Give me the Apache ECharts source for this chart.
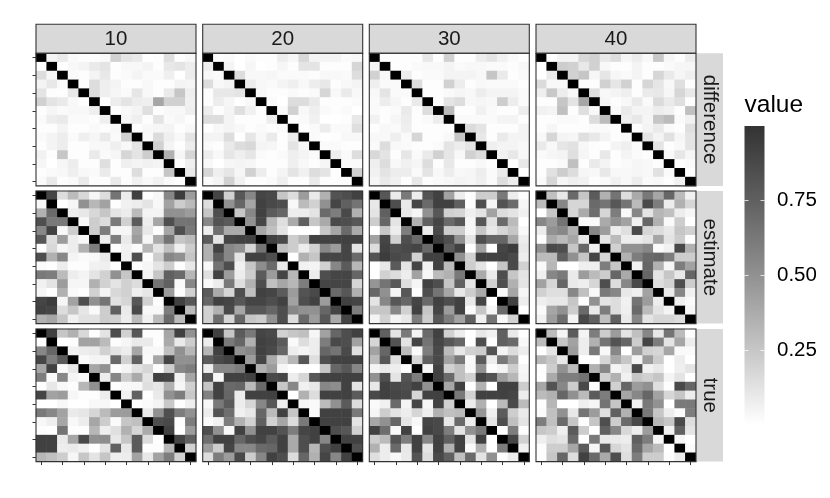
<!DOCTYPE html>
<html>
<head>
<meta charset="utf-8">
<style>html,body{margin:0;padding:0;background:#fff}#c{width:830px;height:498px}</style>
<script src="https://cdn.jsdelivr.net/npm/echarts@6/dist/echarts.min.js"></script>
</head>
<body>
<div id="c"></div>
<script>
const _ = null; // diagonal cells are drawn black
const columnLabels = ['10', '20', '30', '40'];
const rowLabels = ['difference', 'estimate', 'true'];
const legendTicks = [0.25, 0.5, 0.75];
const cells = ['1','2','3','4','5','6','7','8','9','10','11','12','13','14','15'];

const diff10 = [
[_,5,9,2,1,1,2,20,12,9,0,1,14,1,3],
[0,_,0,3,5,9,12,1,3,3,5,1,10,12,8],
[15,4,_,2,1,5,10,1,2,5,2,2,7,0,8],
[5,10,2,_,1,15,7,5,1,1,3,1,1,5,4],
[12,1,1,10,_,15,7,4,2,11,3,1,9,25,7],
[20,12,9,3,1,_,1,8,12,8,7,40,20,20,6],
[1,4,2,3,3,7,_,1,3,5,14,1,3,3,7],
[2,8,9,2,2,1,7,_,4,7,1,12,2,4,1],
[1,1,5,1,1,2,1,3,_,1,3,4,5,1,3],
[2,5,8,2,7,4,9,2,20,_,2,16,7,3,12],
[1,5,8,1,1,3,3,7,3,12,_,20,5,1,8],
[6,1,25,1,1,9,2,4,18,12,22,_,35,4,18],
[4,0,4,8,1,1,14,1,7,5,6,5,_,1,7],
[1,2,3,7,3,2,9,1,1,15,1,1,25,_,9],
[2,9,1,2,9,1,1,9,1,6,3,6,2,1,_]];
const diff20 = [
[_,1,2,0,2,1,1,8,4,17,5,5,5,2,3],
[8,_,5,0,4,0,1,4,1,12,12,1,1,1,18],
[3,2,_,15,3,3,4,2,2,2,1,3,3,2,15],
[15,3,5,_,8,3,2,5,7,3,8,10,1,3,5],
[1,10,10,12,_,3,1,1,2,1,2,18,3,9,3],
[1,8,4,0,3,_,2,0,15,15,9,1,1,1,2],
[8,1,5,14,6,1,_,2,20,3,7,2,1,2,0],
[15,15,5,1,1,1,8,_,1,2,6,0,0,1,10],
[0,3,5,3,1,2,1,2,_,1,2,8,2,2,14],
[5,5,15,0,11,3,9,1,8,_,2,0,1,3,3],
[2,1,9,15,17,5,4,1,12,3,_,2,2,1,1],
[8,3,11,7,11,2,1,2,7,5,2,_,7,2,15],
[3,0,4,5,4,1,1,1,7,3,1,4,_,2,2],
[18,7,11,4,20,8,1,5,12,6,15,12,1,_,20],
[2,5,20,6,1,1,2,7,1,1,9,1,1,1,_]];
const diff30 = [
[_,1,1,1,1,10,1,20,1,1,8,12,6,2,0],
[5,_,1,1,2,3,3,5,2,3,3,2,2,1,3],
[20,3,_,8,1,2,2,5,5,5,3,25,9,1,2],
[7,2,2,_,15,1,1,20,8,1,3,2,2,2,1],
[3,12,2,2,_,1,1,2,4,3,8,5,5,5,2],
[2,8,4,1,9,_,1,12,15,3,4,3,22,8,2],
[2,1,2,9,1,15,_,30,1,1,6,2,1,1,8],
[6,1,4,8,1,2,8,_,2,2,2,2,5,5,1],
[1,3,2,7,1,1,1,1,_,16,12,1,1,1,5],
[3,3,7,2,18,1,1,3,25,_,10,1,9,5,5],
[2,15,3,2,1,1,2,12,8,12,_,7,5,5,3],
[17,12,1,11,2,9,20,11,3,20,15,_,6,10,3],
[7,15,3,6,4,15,1,10,1,1,3,1,_,1,10],
[6,12,8,8,2,12,3,8,3,4,8,2,9,_,0],
[4,9,6,1,10,1,2,3,5,4,7,2,15,8,_]];
const diff40 = [
[_,0,5,5,17,20,10,15,4,8,3,24,4,1,8],
[0,_,22,20,10,20,3,1,1,5,1,1,2,4,4],
[0,9,_,20,25,4,11,4,2,5,1,18,9,4,7],
[16,3,3,_,1,1,20,11,20,1,18,11,3,14,1],
[7,24,8,3,_,14,3,5,7,1,9,10,4,18,10],
[1,1,25,12,40,_,4,1,3,9,2,16,9,14,1],
[6,5,28,1,14,3,_,2,9,5,5,8,6,1,28],
[1,1,2,2,1,15,30,_,7,10,4,25,30,2,6],
[1,4,1,1,1,2,2,1,_,1,5,9,2,1,14],
[3,18,5,4,14,10,5,1,2,_,11,5,13,4,12],
[9,3,11,13,3,1,0,5,7,2,_,12,1,3,12],
[2,4,5,14,4,1,10,1,5,2,1,_,3,11,4],
[1,1,2,28,1,9,5,1,2,4,3,1,_,1,2],
[1,13,22,15,4,3,10,3,3,4,3,13,2,_,1],
[2,18,4,7,6,1,2,6,3,8,2,3,1,6,_]];

const est10 = [
[_,90,15,30,17,4,15,65,8,92,0,3,55,95,45],
[3,_,0,4,50,32,42,1,6,8,12,3,42,22,30],
[35,70,_,8,10,17,25,12,8,30,5,5,50,50,45],
[85,62,62,_,3,22,15,62,20,78,8,40,85,65,65],
[55,92,3,22,_,22,60,4,4,40,10,1,40,85,62],
[80,15,45,8,3,_,8,60,9,45,4,38,65,25,30],
[0,17,4,8,35,60,_,1,6,2,32,12,28,7,22],
[85,35,55,5,2,3,9,_,6,85,1,22,55,50,25],
[2,1,8,1,1,6,7,1,_,1,4,12,22,1,10],
[62,60,30,8,5,12,20,50,25,_,5,25,75,70,32],
[6,12,45,4,4,35,20,12,20,15,_,65,75,2,55],
[4,0,35,2,1,20,5,17,20,7,11,_,45,1,20],
[90,95,4,42,85,50,65,13,18,80,20,1,_,92,80],
[92,90,15,25,11,2,22,75,9,88,3,3,60,_,30],
[35,40,25,6,13,13,22,20,8,30,6,30,70,30,_]];
const est20 = [
[_,90,20,80,55,90,88,25,15,45,9,35,82,85,92],
[15,_,50,72,40,92,88,85,3,30,20,50,90,75,65],
[25,85,_,25,55,92,78,72,8,8,12,70,60,88,35],
[55,82,78,_,50,90,32,14,38,75,25,38,88,85,80],
[8,68,38,38,_,40,28,12,1,0,0,25,40,70,38],
[78,12,90,92,92,_,92,88,22,32,92,92,92,92,92],
[35,92,55,50,18,65,_,28,22,8,20,55,45,90,12],
[35,78,55,12,92,92,85,_,0,35,25,90,90,90,70],
[3,65,85,6,25,52,70,10,_,6,5,20,55,78,32],
[14,92,45,8,22,78,45,90,32,_,8,85,90,90,72],
[2,8,62,14,35,85,28,40,32,60,_,90,90,90,18],
[78,38,18,85,28,92,90,78,45,82,88,_,70,80,35],
[72,92,90,80,90,90,85,92,42,85,92,45,_,92,90],
[20,35,88,40,80,80,72,85,55,50,50,72,90,_,60],
[20,68,18,72,25,22,50,85,15,70,45,80,38,90,_]];
const est30 = [
[_,80,9,62,8,82,92,42,8,1,22,22,62,8,1],
[10,_,85,9,90,70,92,92,75,1,85,4,82,70,4],
[12,75,_,10,4,50,80,20,18,7,12,42,15,12,6],
[22,72,12,_,35,75,90,70,80,4,80,13,70,30,0],
[0,25,8,60,_,8,88,22,22,4,25,10,18,25,3],
[42,90,20,85,70,_,95,85,50,12,85,72,72,40,8],
[15,92,85,88,90,70,_,78,92,0,42,0,90,95,10],
[82,95,88,85,20,92,92,_,50,20,92,92,92,88,8],
[0,10,78,12,90,6,92,30,_,22,12,0,25,88,20],
[0,20,15,8,42,4,30,35,62,_,38,9,85,25,12],
[48,65,80,15,4,92,85,25,75,12,_,20,85,35,12],
[72,50,5,80,1,85,65,40,10,22,38,_,3,40,4],
[12,55,80,72,90,70,92,85,92,10,90,0,_,92,8],
[25,25,55,20,92,25,90,45,92,2,25,4,70,_,0],
[5,20,5,10,60,22,80,60,42,75,6,65,3,20,_]];
const est40 = [
[_,28,10,70,25,78,35,65,15,38,62,40,72,30,6],
[30,_,55,18,18,70,65,80,65,30,88,60,8,35,18],
[0,25,_,18,38,68,18,60,2,55,12,32,28,8,4],
[55,45,65,_,2,2,38,50,42,6,72,35,2,22,0],
[8,50,55,35,_,55,45,8,14,88,18,15,10,25,20],
[1,38,30,40,10,_,12,30,8,8,12,40,12,22,1],
[50,88,85,25,72,6,_,20,50,50,55,2,6,88,35],
[30,30,75,50,25,90,18,_,35,60,70,72,60,22,22],
[2,32,0,0,7,7,60,25,_,6,72,35,4,60,42],
[7,55,62,9,45,30,22,72,38,_,72,12,25,10,72],
[42,18,72,9,7,18,85,15,55,88,_,15,20,85,22],
[20,14,14,55,28,3,62,55,10,7,42,_,9,55,6],
[7,10,10,25,1,50,12,15,6,65,45,8,_,6,2],
[2,40,50,22,70,9,60,15,7,70,30,12,5,_,4],
[6,45,68,5,88,75,28,75,9,55,12,18,18,15,_]];

const true10 = [
[_,92,25,35,17,1,12,85,20,80,1,1,40,92,50],
[1,_,0,1,42,42,30,1,4,9,9,1,38,9,22],
[55,72,_,6,8,9,20,12,8,40,3,3,28,50,32],
[90,60,78,_,2,5,5,70,20,75,2,40,90,50,50],
[40,92,2,10,_,40,50,1,5,13,18,1,22,55,60],
[60,2,55,5,2,_,8,55,22,38,12,92,90,6,40],
[1,10,3,1,32,50,_,1,3,3,14,11,35,4,20],
[90,42,45,4,1,1,8,_,6,75,1,9,50,60,24],
[0,0,3,0,0,3,3,0,_,1,2,5,24,1,7],
[62,55,42,9,11,18,30,45,45,_,9,50,85,60,50],
[3,7,40,3,8,40,22,2,25,28,_,85,88,1,60],
[1,0,65,1,1,32,7,14,35,18,38,_,92,0,45],
[92,92,9,40,88,50,52,10,25,78,16,0,_,90,75],
[92,92,8,9,6,0,12,75,10,78,1,1,32,_,20],
[32,28,22,4,25,12,25,7,8,42,10,42,60,20,_]];
const true20 = [
[_,92,25,78,62,90,88,20,25,28,4,42,72,85,92],
[8,_,62,72,35,92,90,78,2,15,8,60,88,85,42],
[32,92,_,50,55,92,88,72,8,5,8,72,65,88,14],
[78,88,92,_,45,90,38,15,32,80,14,85,92,92,92],
[8,55,55,60,_,35,45,4,0,0,0,25,72,80,55],
[82,3,92,92,92,_,88,90,8,18,80,92,92,92,92],
[25,92,70,72,30,70,_,25,55,6,10,55,52,92,12],
[58,92,72,8,92,92,92,_,0,35,15,92,92,92,78],
[3,62,78,8,18,55,80,8,_,4,2,30,50,78,15],
[8,82,68,6,10,72,30,92,25,_,2,92,92,92,62],
[2,6,60,35,20,75,20,40,15,62,_,92,92,92,12],
[85,50,3,92,50,92,92,82,60,90,92,_,85,80,20],
[68,92,92,72,85,90,78,92,38,85,92,55,_,92,92],
[45,22,90,55,55,70,72,92,38,85,32,85,92,_,85],
[15,60,45,88,22,55,92,85,15,72,35,90,55,92,_]];
const true30 = [
[_,75,12,62,5,70,92,20,8,0,10,6,75,9,0],
[18,_,82,12,90,65,90,80,72,0,85,1,75,70,3],
[42,72,_,30,2,60,88,30,10,20,22,82,5,15,8],
[30,80,14,_,18,75,88,42,62,2,78,8,62,40,0],
[5,9,8,1,_,4,92,20,28,3,50,1,5,22,4],
[50,85,12,82,60,_,92,70,28,20,90,82,45,32,5],
[10,92,88,85,92,50,_,40,92,0,35,0,92,92,22],
[88,92,90,88,18,92,92,_,62,20,92,92,92,90,8],
[2,6,70,5,90,4,92,20,_,8,35,0,30,88,30],
[4,22,12,8,18,7,35,28,30,_,48,7,78,22,9],
[40,50,72,12,3,90,88,10,70,8,_,12,85,28,12],
[92,68,3,92,0,92,88,60,12,50,62,_,0,60,1],
[22,30,82,60,92,55,92,75,92,12,92,0,_,90,20],
[35,8,70,10,92,12,92,35,92,2,35,0,60,_,6],
[14,8,3,9,82,15,88,75,28,70,12,50,1,8,_]];
const true40 = [
[_,30,5,78,5,60,22,45,12,28,55,10,65,30,1],
[30,_,25,42,8,35,65,82,72,22,90,60,12,40,8],
[0,12,_,45,8,62,3,55,0,45,20,18,40,2,2],
[32,25,10,_,0,0,18,38,25,5,45,22,0,8,0],
[1,22,50,30,_,35,55,5,10,88,6,10,0,7,12],
[0,38,60,60,65,_,20,35,6,25,20,25,5,12,0],
[40,82,55,22,88,1,_,20,72,45,50,14,1,88,72],
[30,35,72,50,30,78,60,_,40,55,72,42,18,25,8],
[1,32,0,0,7,4,65,25,_,6,62,50,0,62,62],
[2,28,50,10,65,45,14,75,35,_,62,25,8,2,60],
[60,28,70,25,1,25,85,22,70,88,_,32,25,88,15],
[25,22,7,78,22,0,75,55,17,7,45,_,6,75,12],
[7,14,12,70,0,62,9,9,8,75,60,4,_,4,0],
[1,22,22,40,78,4,80,18,12,70,40,30,0,_,2],
[1,25,72,15,92,70,38,85,14,60,22,22,1,8,_]];

const panels = [
  [diff10, diff20, diff30, diff40],
  [est10, est20, est30, est40],
  [true10, true20, true30, true40]
];

const FONT = '"Liberation Sans", Arial, sans-serif';
const INK = '#333333';
const STRIP = '#d9d9d9';
const ramp = ['#ffffff', '#c6c6c6', '#919191', '#606060', '#333333'];
const colX = [36, 202.7, 369.3, 536], panelW = 160;
const rowY = [53.3, 191, 329], panelH = 132.6;
const stripTop = 24.3, stripRight = 723;

const grid = [], xAxis = [], yAxis = [], series = [], graphic = [];
const axisStyle = { lineStyle: { color: INK, width: 1 } };

panels.forEach((row, r) => row.forEach((matrix, c) => {
  const i = grid.length;
  grid.push({ left: colX[c], top: rowY[r], width: panelW, height: panelH, containLabel: false });
  xAxis.push({ type: 'category', gridIndex: i, data: cells, position: 'bottom',
    axisLine: { show: false }, axisLabel: { show: false }, splitLine: { show: false },
    axisTick: { show: r === 2, alignWithLabel: true, length: 3.5, ...axisStyle } });
  yAxis.push({ type: 'category', gridIndex: i, data: cells, inverse: true, position: 'left',
    axisLine: { show: false }, axisLabel: { show: false }, splitLine: { show: false },
    axisTick: { show: c === 0, alignWithLabel: true, length: 3.5, ...axisStyle } });
  const data = [];
  matrix.forEach((vals, y) => vals.forEach((v, x) => data.push([x, y, v === null ? 2 : v / 100])));
  series.push({ type: 'heatmap', xAxisIndex: i, yAxisIndex: i, data, silent: true,
    progressive: 0, animation: false, emphasis: { disabled: true } });
  graphic.push({ type: 'rect', z: 100, silent: true,
    shape: { x: colX[c], y: rowY[r], width: panelW, height: panelH },
    style: { fill: 'none', stroke: INK, lineWidth: 1.1 } });
}));

columnLabels.forEach((t, c) => {
  graphic.push({ type: 'rect', z: 90, silent: true,
    shape: { x: colX[c], y: stripTop, width: panelW, height: rowY[0] - stripTop },
    style: { fill: STRIP, stroke: INK, lineWidth: 1.1 } });
  graphic.push({ type: 'text', z: 110, silent: true, x: colX[c] + panelW / 2, y: (stripTop + rowY[0]) / 2 + 0.5,
    style: { text: t, fill: '#1a1a1a', font: '20.5px ' + FONT, textAlign: 'center', textVerticalAlign: 'middle' } });
});
rowLabels.forEach((t, r) => {
  const x0 = colX[3] + panelW;
  graphic.push({ type: 'rect', z: 90, silent: true,
    shape: { x: x0, y: rowY[r], width: stripRight - x0, height: panelH },
    style: { fill: STRIP, stroke: INK, lineWidth: 0 } });
  graphic.push({ type: 'text', z: 110, silent: true, rotation: -Math.PI / 2,
    x: (x0 + stripRight) / 2, y: rowY[r] + panelH / 2,
    style: { text: t, fill: '#1a1a1a', font: '20.5px ' + FONT, textAlign: 'center', textVerticalAlign: 'middle' } });
});

// Colour bar, built on its own value axis
const bar = grid.length;
grid.push({ left: 744.5, top: 126, width: 20, height: 298.5 });
xAxis.push({ type: 'category', gridIndex: bar, data: ['value'], show: false });
const barAxis = {
  type: 'value', gridIndex: bar, min: 0, max: 1, interval: 0.25, z: 5,
  axisLine: { show: false }, splitLine: { show: false },
  axisTick: { show: true, inside: true, length: 4, customValues: legendTicks,
    lineStyle: { color: '#ffffff', width: 1, opacity: 0.75 } }
};
yAxis.push({ ...barAxis, position: 'left', axisLabel: { show: false } });
yAxis.push({ ...barAxis, position: 'right',
  axisLabel: { show: true, inside: false, margin: 12.5, customValues: legendTicks, color: '#000',
    fontFamily: FONT, fontSize: 20.5, formatter: v => v.toFixed(2) } });
series.push({ type: 'bar', xAxisIndex: bar, yAxisIndex: bar, data: [1], barWidth: '100%', silent: true, animation: false,
  itemStyle: { color: { type: 'linear', x: 0, y: 1, x2: 0, y2: 0,
    colorStops: ramp.map((color, k) => ({ offset: k / (ramp.length - 1), color })) } } });
graphic.push({ type: 'text', silent: true, x: 744.5, y: 93,
  style: { text: 'value', fill: '#000', font: '24.5px ' + FONT, textAlign: 'left', textVerticalAlign: 'top' } });

const chart = echarts.init(document.getElementById('c'), null, { renderer: 'canvas' });
chart.setOption({
  animation: false, backgroundColor: '#fff', tooltip: { show: false },
  grid, xAxis, yAxis, series, graphic,
  visualMap: { show: false, type: 'continuous', min: 0, max: 1, unboundedRange: false,
    seriesIndex: panels.flat().map((m, k) => k),
    inRange: { color: ramp }, outOfRange: { color: '#000000' } }
});
</script>
</body>
</html>
